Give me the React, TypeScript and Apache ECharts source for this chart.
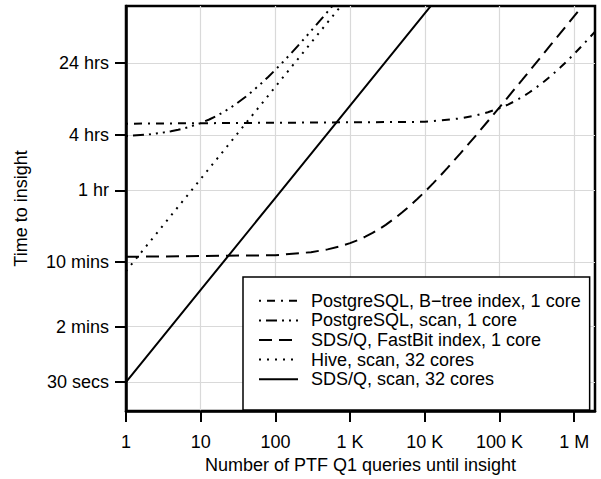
import React, { useEffect, useRef } from "react";
import * as echarts from "echarts";

const FONT = "'Liberation Sans', Arial, Helvetica, sans-serif";

const xTickValues = [1, 10, 100, 1000, 10000, 100000, 1000000];
const xTickLabels = ["1", "10", "100", "1 K", "10 K", "100 K", "1 M"];
const yTickValues = [30, 120, 600, 3600, 14400, 86400];
const yTickLabels = ["30 secs", "2 mins", "10 mins", "1 hr", "4 hrs", "24 hrs"];

const xTitle = "Number of PTF Q1 queries until insight";
const yTitle = "Time to insight";

const seriesNames = [
  "PostgreSQL, B\u2212tree index, 1 core",
  "PostgreSQL, scan, 1 core",
  "SDS/Q, FastBit index, 1 core",
  "Hive, scan, 32 cores",
  "SDS/Q, scan, 32 cores",
];

// queries -> seconds
const btreeQueries = [1, 10000, 30000, 50000, 70000, 100000, 130000, 160000, 200000, 250000, 300000, 400000, 500000, 650000, 800000, 1000000, 1300000, 1600000, 2000000];
const btreeSeconds = [19100, 20000, 21800, 23600, 25400, 28100, 30800, 33500, 37100, 41600, 46100, 55100, 64100, 77600, 91100, 109100, 136100, 163100, 199100];

const pgScanQueries = [1, 2, 3, 4, 5, 7, 10, 13, 16, 20, 25, 30, 40, 50, 65, 80, 100, 130, 160, 200, 250, 300, 400, 500, 700];
const pgScanSeconds = [14000, 14600, 15200, 15800, 16400, 17600, 19400, 21200, 23000, 25400, 28400, 31400, 37400, 43400, 52400, 61400, 73400, 91400, 109400, 133400, 163400, 193400, 253400, 313400, 433400];

const fastbitQueries = [1, 100, 300, 500, 700, 1000, 1300, 1600, 2000, 2500, 3000, 4000, 5000, 6500, 8000, 10000, 13000, 16000, 20000, 30000, 50000, 100000, 200000, 500000, 1000000, 1500000];
const fastbitSeconds = [687, 715, 771, 827, 883, 967, 1051, 1135, 1247, 1387, 1527, 1807, 2087, 2507, 2927, 3487, 4327, 5167, 6287, 9087, 14687, 28687, 56687, 140687, 280687, 420687];

const hiveQueries = [1, 10, 100, 1000];
const hiveSeconds = [480, 4800, 48000, 480000];

const sdsScanQueries = [1, 10, 100, 1000, 10000, 100000];
const sdsScanSeconds = [30, 300, 3000, 30000, 300000, 3000000];

const dashPatterns: (number[] | "solid")[] = [
  [2, 6, 8, 6],
  [2, 5, 11, 5, 2, 5, 2, 5],
  [13, 7],
  [2, 6],
  "solid",
];

function pairs(xs: number[], ys: number[]) {
  return xs.map((x, i) => [x, ys[i]]);
}

function nearestLabel(v: number, vals: number[], labels: string[]) {
  let best = 0;
  let bestD = Infinity;
  for (let i = 0; i < vals.length; i++) {
    const d = Math.abs(Math.log10(v) - Math.log10(vals[i]));
    if (d < bestD) {
      bestD = d;
      best = i;
    }
  }
  return bestD < 0.02 ? labels[best] : "";
}

export default function App() {
  const ref = useRef<HTMLDivElement>(null);

  useEffect(() => {
    document.body.style.margin = "0";
    if (!ref.current) return;
    const chart = echarts.init(ref.current, undefined, { renderer: "svg" });

    const datasets = [
      pairs(btreeQueries, btreeSeconds),
      pairs(pgScanQueries, pgScanSeconds),
      pairs(fastbitQueries, fastbitSeconds),
      pairs(hiveQueries, hiveSeconds),
      pairs(sdsScanQueries, sdsScanSeconds),
    ];

    const nameStyle = { fontFamily: FONT, fontSize: 18, color: "#000000" };

    const option: any = {
      animation: false,
      backgroundColor: "#fff",
      textStyle: { fontFamily: FONT, color: "#000" },
      grid: {
        left: 126,
        right: 6,
        top: 6,
        bottom: 68,
        show: true,
        borderColor: "#000",
        borderWidth: 2.5,
        backgroundColor: "transparent",
        outerBoundsMode: "none",
        containLabel: false,
      },
      legend: {
        orient: "vertical",
        left: 243,
        top: 277,
        itemWidth: 39,
        itemHeight: 14,
        itemGap: 0,
        padding: [14, 9, 21, 15],
        backgroundColor: "#fff",
        borderColor: "#000",
        borderWidth: 1.5,
        borderRadius: 0,
        selectedMode: false,
        itemStyle: { color: "transparent", borderColor: "transparent", borderWidth: 0, opacity: 0 },
        textStyle: {
          fontFamily: FONT,
          fontSize: 18,
          color: "#000",
          lineHeight: 19.6,
          padding: [0, 0, 0, 8],
        },
        data: seriesNames,
      },
      xAxis: {
        type: "log",
        logBase: 10,
        min: 1,
        max: 1.9e6,
        name: xTitle,
        nameLocation: "middle",
        nameGap: 43,
        nameTextStyle: nameStyle,
        axisLine: { show: true, lineStyle: { color: "#000", width: 2.5 } },
        axisTick: {
          show: true,
          length: 11,
          customValues: xTickValues,
          lineStyle: { color: "#000", width: 2 },
        },
        minorTick: { show: false },
        axisLabel: {
          customValues: xTickValues,
          fontFamily: FONT,
          fontSize: 18,
          color: "#000",
          margin: 22,
          hideOverlap: false,
          formatter: (v: number) => nearestLabel(v, xTickValues, xTickLabels),
        },
        splitLine: { show: true, lineStyle: { color: "#d9d9d9", width: 1.2 } },
      },
      yAxis: {
        type: "log",
        logBase: 10,
        min: 14.6,
        max: 361000,
        name: yTitle,
        nameLocation: "middle",
        nameGap: 96,
        nameMoveOverlap: false,
        nameTextStyle: nameStyle,
        axisLine: { show: true, lineStyle: { color: "#000", width: 2.5 } },
        axisTick: {
          show: true,
          length: 11,
          customValues: yTickValues,
          lineStyle: { color: "#000", width: 2 },
        },
        minorTick: { show: false },
        axisLabel: {
          customValues: yTickValues,
          fontFamily: FONT,
          fontSize: 18,
          color: "#000",
          margin: 17,
          hideOverlap: false,
          formatter: (v: number) => nearestLabel(v, yTickValues, yTickLabels),
        },
        splitLine: { show: true, lineStyle: { color: "#d9d9d9", width: 1.2 } },
      },
      series: seriesNames.map((name, i) => ({
        type: "line",
        name,
        data: datasets[i],
        symbol: "none",
        showSymbol: false,
        smooth: false,
        clip: true,
        z: 3,
        itemStyle: { color: "#000" },
        lineStyle: { color: "#000", width: 2, type: dashPatterns[i] },
      })),
    };

    chart.setOption(option);
    return () => chart.dispose();
  }, []);

  return <div ref={ref} style={{ width: 601, height: 479 }} />;
}
